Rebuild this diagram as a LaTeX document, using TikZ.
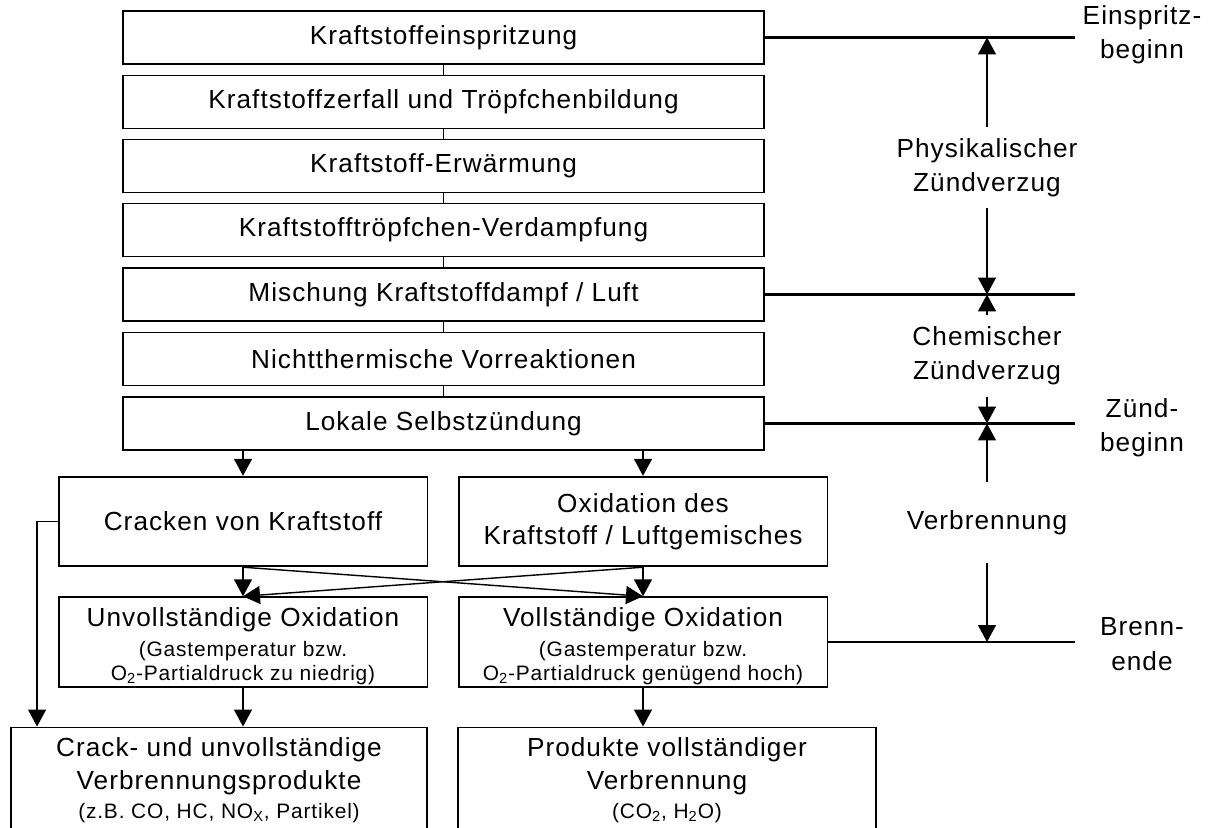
\documentclass[tikz,border=0pt]{standalone}
\usepackage{fontspec}
\setmainfont{Liberation Sans}[LetterSpace=4]
\usetikzlibrary{arrows.meta}
\newcommand{\bigtxt}{\fontsize{14.9pt}{18.5pt}\selectfont}
\newcommand{\lbltxt}{\fontsize{14.9pt}{19.6pt}\selectfont}
\newcommand{\smtxt}{\fontsize{11.9pt}{13.5pt}\selectfont}

\begin{document}
\begin{tikzpicture}[x=0.02cm, y=-0.02cm,
                box/.style={draw, line width=1.1pt, align=center, inner sep=0pt, font=\bigtxt},
                stackbox/.style={box, minimum width=12.82cm, minimum height=1.06cm},
                midbox/.style={box, minimum width=7.38cm, minimum height=1.79cm},
                arr/.style={line width=0.8pt, -{Triangle[length=0.34cm, width=0.36cm]}},
                tline/.style={line width=1.3pt},
                lbl/.style={align=center, font=\lbltxt, inner sep=0pt}]
                \clip (0,0) rectangle (1208,828);

                \node[stackbox] (inj) at (443.5,37.5) {Kraftstoffeinspritzung};
                \node[stackbox] (zerf) at (443.5,102) {Kraftstoffzerfall und Tröpfchenbildung};
                \node[stackbox] (erw) at (443.5,166) {Kraftstoff-Erwärmung};
                \node[stackbox] (verd) at (443.5,230) {Kraftstofftröpfchen-Verdampfung};
                \node[stackbox] (mix) at (443.5,294.5) {Mischung Kraftstoffdampf / Luft};
                \node[stackbox] (vorr) at (443.5,359) {Nichtthermische Vorreaktionen};
                \node[stackbox] (lok) at (443.5,423.5) {Lokale Selbstzündung};

                \node[midbox] (crk) at (243,521.5) {Cracken von Kraftstoff};
                \node[midbox] (oxi) at (643,521.5) {Oxidation des\\Kraftstoff / Luftgemisches};
                \node[midbox] (unv) at (243,642) {\rule{0pt}{15.5pt}Unvollständige Oxidation\\[-1pt]
                    {\smtxt (Gastemperatur bzw.}\\[-5pt]
                    {\smtxt O\textsubscript{2}-Partialdruck zu niedrig)}};
                \node[midbox] (vol) at (643,642) {\rule{0pt}{15.5pt}Vollständige Oxidation\\[-1pt]
                    {\smtxt (Gastemperatur bzw.}\\[-5pt]
                    {\smtxt O\textsubscript{2}-Partialdruck genügend hoch)}};

                \node[box, minimum width=8.32cm, minimum height=2.1cm] (cbp) at (219,780)
                    {Crack- und unvollständige\\Verbrennungsprodukte\\[-2pt]
                    {\smtxt (z.B. CO, HC, NO\textsubscript{X}, Partikel)}};
                \node[box, minimum width=8.38cm, minimum height=2.1cm] (vbp) at (667,780)
                    {Produkte vollständiger\\Verbrennung\\[-2pt]
                    {\smtxt (CO\textsubscript{2}, H\textsubscript{2}O)}};

                \coordinate (lim) at (1075,0);
                \draw[tline] (inj.east) -- (inj.east -| lim);
                \draw[tline] (mix.east) -- (mix.east -| lim);
                \draw[tline] (lok.east) -- (lok.east -| lim);
                \draw[line width=0.8pt] (vol.east) -- (vol.east -| lim);

                \foreach \a/\b in {inj/zerf, zerf/erw, erw/verd, verd/mix, mix/vorr, vorr/lok}
                    \draw[line width=0.8pt] (\a.south) -- (\b.north);

                \draw[arr] (lok.south -| crk.north) -- (crk.north);
                \draw[arr] (lok.south -| oxi.north) -- (oxi.north);
                \draw[arr] (crk.south) -- (unv.north);
                \draw[arr] (crk.south) -- (vol.north);
                \draw[arr] (oxi.south) -- (vol.north);
                \draw[arr] (oxi.south) -- (unv.north);
                \draw[arr] (unv.south) -- (unv.south |- cbp.north);
                \draw[arr] (vol.south) -- (vol.south |- vbp.north);
                \draw[arr] (crk.west) -| ([xshift=0.54cm]cbp.north west);

                \node[lbl, minimum height=1.62cm] (phys) at (987,167.5) {Physikalischer\\Zündverzug};
                \node[lbl, minimum height=1.64cm] (chem) at (987,356) {Chemischer\\Zündverzug};
                \node[lbl, minimum height=1.62cm] (verb) at (987,522.5) {Verbrennung};
                \draw[arr] (phys.north) -- (phys.north |- inj.east);
                \draw[arr] (phys.south) -- (phys.south |- mix.east);
                \draw[arr] (chem.north) -- (chem.north |- mix.east);
                \draw[arr] (chem.south) -- (chem.south |- lok.east);
                \draw[arr] (verb.north) -- (verb.north |- lok.east);
                \draw[arr] (verb.south) -- (verb.south |- vol.east);

                \node[lbl] (einb) at (1142,35) {Einspritz-\\beginn};
                \node[lbl] (zuendb) at (1142,428) {Zünd-\\beginn};
                \node[lbl] (brende) at (1142,644) {Brenn-\\ende};
            \end{tikzpicture}
\end{document}
